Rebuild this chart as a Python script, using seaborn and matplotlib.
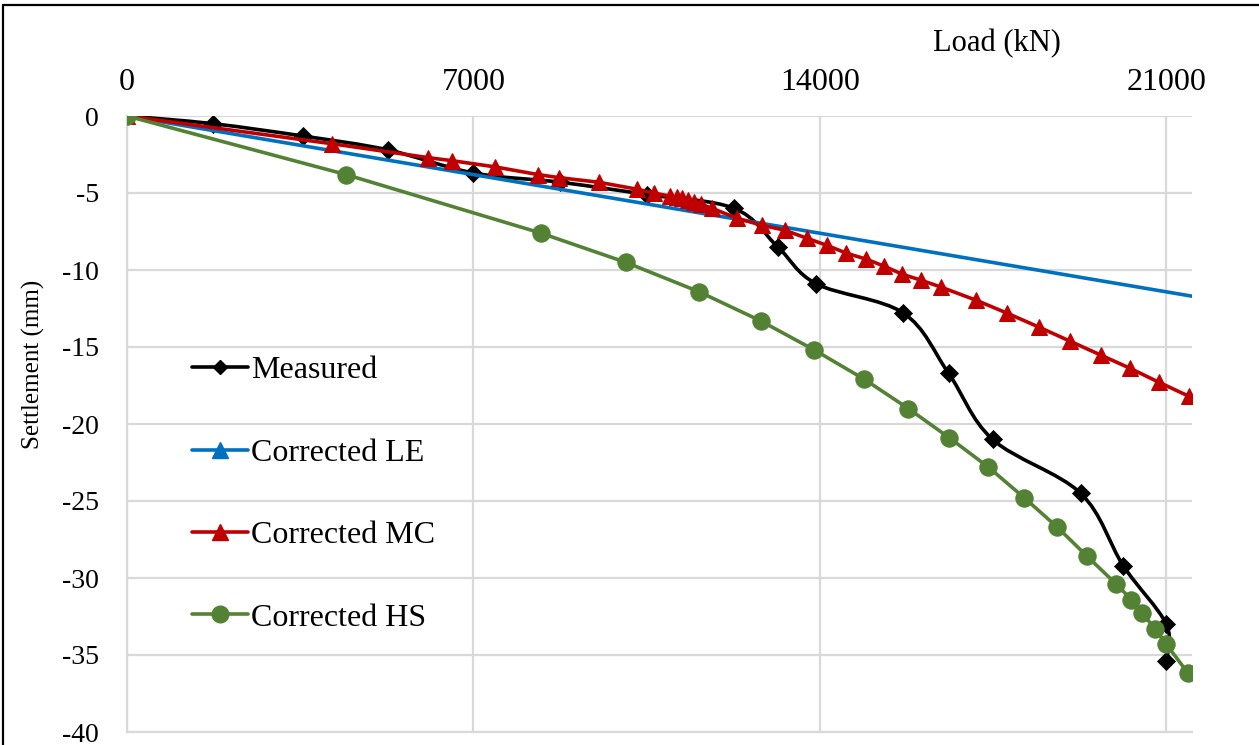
import numpy as np
import pandas as pd
import matplotlib
matplotlib.use("Agg")
import matplotlib.pyplot as plt
from matplotlib.path import Path
from matplotlib.patches import PathPatch
from matplotlib.lines import Line2D
import seaborn as sns

# ---------------- data ----------------
measured_load = [0, 1737, 3554, 5270, 7000, 8750, 10500, 12270, 13150, 13930,
                 15690, 16600, 17490, 19270, 20130, 21000, 21000]
measured_settle = [0, -0.5, -1.3, -2.2, -3.7, -4.3, -5.1, -6.0, -8.5, -10.9,
                   -12.8, -16.7, -21.0, -24.5, -29.2, -33.0, -35.4]

le_load = [0, 21520]
le_settle = [0, -11.7]

mc_load = [0, 4139, 6078, 6563, 7431, 8299, 8723, 9531, 10298, 10641, 10964,
           11106, 11207, 11328, 11449, 11590, 11812, 12317, 12822, 13286,
           13731, 14135, 14538, 14942, 15306, 15669, 16053, 16457, 17163,
           17789, 18435, 19061, 19687, 20273, 20858, 21464]
mc_settle = [0, -1.8, -2.7, -2.9, -3.3, -3.8, -4.0, -4.3, -4.75, -5.0, -5.2,
             -5.27, -5.33, -5.46, -5.59, -5.72, -5.98, -6.63, -7.09, -7.41,
             -7.93, -8.39, -8.91, -9.30, -9.76, -10.28, -10.67, -11.12, -11.97,
             -12.81, -13.72, -14.63, -15.54, -16.39, -17.30, -18.21]

hs_load = [0, 4422, 8360, 10076, 11550, 12802, 13892, 14901, 15790, 16618,
           17406, 18133, 18799, 19404, 19990, 20293, 20515, 20777, 21000, 21444]
hs_settle = [0, -3.8, -7.6, -9.5, -11.4, -13.3, -15.2, -17.1, -19.0, -20.9,
             -22.8, -24.8, -26.7, -28.6, -30.4, -31.4, -32.3, -33.3, -34.3, -36.2]

series_names = ["Measured", "Corrected LE", "Corrected MC", "Corrected HS"]
x_ticks = [0, 7000, 14000, 21000]
y_ticks = [0, -5, -10, -15, -20, -25, -30, -35, -40]

x_label = "Load (kN)"
y_label = "Settlement (mm)"

# ---------------- style ----------------
C_MEAS = "#000000"
C_LE = "#0070C0"
C_MC = "#C00000"
C_HS = "#548235"
GRID = "#D9D9D9"

sns.set_theme(style="white")
plt.rcParams["font.family"] = ["Liberation Serif", "DejaVu Serif"]
plt.rcParams["text.color"] = "black"

W, H = 1259, 745
fig = plt.figure(figsize=(W / 100, H / 100), dpi=100)
ax_left, ax_right, ax_top, ax_bottom = 127, 1192, 116, 732
ax = fig.add_axes([ax_left / W, 1 - ax_bottom / H,
                   (ax_right - ax_left) / W, (ax_bottom - ax_top) / H])
ax.set_facecolor("white")

LW = 2.6

# Measured: smoothed line (Catmull-Rom as cubic Bezier) + diamond markers
P = np.column_stack([measured_load, measured_settle]).astype(float)
n = len(P)
verts = [tuple(P[0])]
codes = [Path.MOVETO]
for i in range(n - 1):
    p0 = P[i - 1] if i > 0 else P[i]
    p1 = P[i]
    p2 = P[i + 1]
    p3 = P[i + 2] if i + 2 < n else P[i + 1]
    b1 = p1 + (p2 - p0) / 6.0
    b2 = p2 - (p3 - p1) / 6.0
    verts += [tuple(b1), tuple(b2), tuple(p2)]
    codes += [Path.CURVE4] * 3
ax.add_patch(PathPatch(Path(verts, codes), facecolor="none", edgecolor=C_MEAS,
                       lw=LW, zorder=2, capstyle="round", joinstyle="round"))
df_m = pd.DataFrame({"load": measured_load, "settle": measured_settle})
sns.scatterplot(data=df_m, x="load", y="settle", marker="D", s=85,
                color=C_MEAS, edgecolor=C_MEAS, linewidth=0.5, ax=ax, zorder=2.1,
                legend=False)

# Corrected LE: straight line
df_le = pd.DataFrame({"load": le_load, "settle": le_settle})
sns.lineplot(data=df_le, x="load", y="settle", color=C_LE, lw=LW, sort=False,
             estimator=None, ax=ax, zorder=3, legend=False)

# Corrected MC
df_mc = pd.DataFrame({"load": mc_load, "settle": mc_settle})
sns.lineplot(data=df_mc, x="load", y="settle", color=C_MC, lw=LW, sort=False,
             estimator=None, marker="^", markersize=12, markeredgecolor=C_MC,
             markerfacecolor=C_MC, ax=ax, zorder=4, legend=False)

# Corrected HS
df_hs = pd.DataFrame({"load": hs_load, "settle": hs_settle})
sns.lineplot(data=df_hs, x="load", y="settle", color=C_HS, lw=LW, sort=False,
             estimator=None, marker="o", markersize=12.5, markeredgecolor=C_HS,
             markerfacecolor=C_HS, ax=ax, zorder=5, legend=False)

# ---------------- axes ----------------
ax.set_xlim(0, 21520)
ax.set_ylim(-40, 0)
ax.xaxis.tick_top()
ax.set_xticks(x_ticks)
ax.set_xticklabels([str(t) for t in x_ticks])
ax.set_yticks(y_ticks)
ax.set_yticklabels([str(t) for t in y_ticks])
ax.tick_params(axis="x", which="both", length=0, pad=14, labelsize=23,
               labelcolor="black", top=True, bottom=False)
ax.tick_params(axis="y", which="both", length=0, pad=20, labelsize=20,
               labelcolor="black")
ax.set_xlabel("")
ax.set_ylabel("")
ax.grid(True, color=GRID, lw=1.6)
ax.set_axisbelow(True)
for side in ["top", "right"]:
    ax.spines[side].set_visible(False)
for side in ["left", "bottom"]:
    ax.spines[side].set_visible(True)
    ax.spines[side].set_color(GRID)
    ax.spines[side].set_linewidth(1.6)

fig.text(997 / W, 1 - 44 / H, x_label, ha="center", va="center", fontsize=22,
         color="black")
fig.text(33 / W, 1 - 364 / H, y_label, ha="center", va="center", fontsize=18,
         rotation=90, color="black")

# legend
handles = [
    Line2D([], [], color=C_MEAS, lw=LW, marker="D", markersize=7),
    Line2D([], [], color=C_LE, lw=LW, marker="^", markersize=11),
    Line2D([], [], color=C_MC, lw=LW, marker="^", markersize=11),
    Line2D([], [], color=C_HS, lw=LW, marker="o", markersize=12),
]
leg = ax.legend(handles, series_names, loc="upper left",
                bbox_to_anchor=((192 - ax_left) / (ax_right - ax_left),
                                1 - (356 - ax_top) / (ax_bottom - ax_top)),
                frameon=False, fontsize=23, handlelength=1.75, handletextpad=0.1,
                labelspacing=1.66, borderpad=0, borderaxespad=0)
for t in leg.get_texts():
    t.set_color("black")

# figure border (left and top)
fig.add_artist(Line2D([3 / W, 3 / W], [0, 1 - 5 / H], transform=fig.transFigure,
                      color="black", lw=1.6))
fig.add_artist(Line2D([3 / W, 1], [1 - 5 / H, 1 - 5 / H], transform=fig.transFigure,
                      color="black", lw=1.6))

fig.savefig("out.png", dpi=100)
